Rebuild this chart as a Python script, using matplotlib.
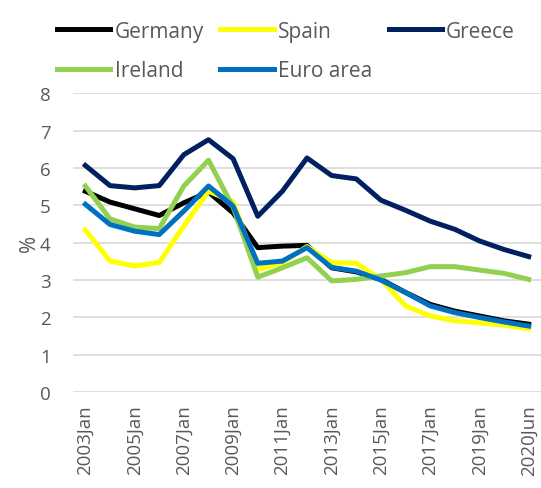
import matplotlib
matplotlib.use("Agg")
import matplotlib.pyplot as plt

plt.rcParams['font.family'] = ['Open Sans', 'DejaVu Sans']

# categories: yearly Jan values plus 2020Jun
periods = [str(y) + "Jan" for y in range(2003, 2021)] + ["2020Jun"]

germany = [5.38, 5.09, 4.91, 4.73, 5.07, 5.36, 4.80, 3.87, 3.91, 3.93,
           3.33, 3.22, 3.02, 2.67, 2.35, 2.17, 2.04, 1.91, 1.82]
spain = [4.34, 3.51, 3.38, 3.47, 4.45, 5.38, 5.10, 3.28, 3.47, 3.90,
         3.47, 3.45, 3.02, 2.31, 2.04, 1.91, 1.86, 1.79, 1.70]
greece = [6.07, 5.53, 5.47, 5.53, 6.36, 6.76, 6.25, 4.71, 5.38, 6.27,
          5.80, 5.71, 5.14, 4.87, 4.58, 4.36, 4.05, 3.82, 3.63]
ireland = [5.52, 4.64, 4.42, 4.38, 5.52, 6.21, 4.95, 3.08, 3.33, 3.60,
           2.98, 3.02, 3.11, 3.20, 3.36, 3.36, 3.27, 3.18, 3.02]
euro_area = [5.03, 4.49, 4.31, 4.22, 4.85, 5.52, 4.98, 3.45, 3.51, 3.87,
             3.34, 3.24, 3.00, 2.67, 2.31, 2.13, 2.00, 1.88, 1.77]

grey = '#595959'

fig = plt.figure(figsize=(5.41, 4.89), dpi=100)
ax = fig.add_axes([0.135, 0.196, 0.865, 0.611])

x = range(len(periods))
ax.plot(x, germany, color='black', lw=3.6, label='Germany')
ax.plot(x, spain, color='#FFFF00', lw=3.6, label='Spain')
ax.plot(x, greece, color='#002060', lw=3.6, label='Greece')
ax.plot(x, ireland, color='#92D050', lw=3.6, label='Ireland')
ax.plot(x, euro_area, color='#0070C0', lw=3.6, label='Euro area')

ax.set_xlim(-0.5, len(periods) - 0.5)
ax.set_ylim(0, 8)
ax.set_yticks(range(0, 9))
ax.set_xticks(list(x)[::2])
ax.set_xticklabels(periods[::2], rotation=90, va='top')
ax.tick_params(axis='both', length=0, colors=grey, labelsize=13.5)
ax.yaxis.set_tick_params(pad=16)
ax.xaxis.set_tick_params(pad=9)
ax.grid(axis='y', color='#D9D9D9', lw=1.2)
ax.set_axisbelow(True)
for s in ax.spines.values():
    s.set_visible(False)
ax.set_ylabel('%', color=grey, fontsize=15, labelpad=0)

# legend order: Germany, Spain, Greece / Ireland, Euro area
h, l = ax.get_legend_handles_labels()
order = [0, 3, 1, 4, 2]
leg = fig.legend([h[i] for i in order], [l[i] for i in order], ncol=3,
                 loc='upper left', bbox_to_anchor=(0.075, 0.99), frameon=False,
                 fontsize=15, handlelength=2.55, handletextpad=0.2,
                 columnspacing=0.8, labelspacing=0.9, borderpad=0.3)
for t in leg.get_texts():
    t.set_color(grey)

fig.savefig('out.png', dpi=100)
